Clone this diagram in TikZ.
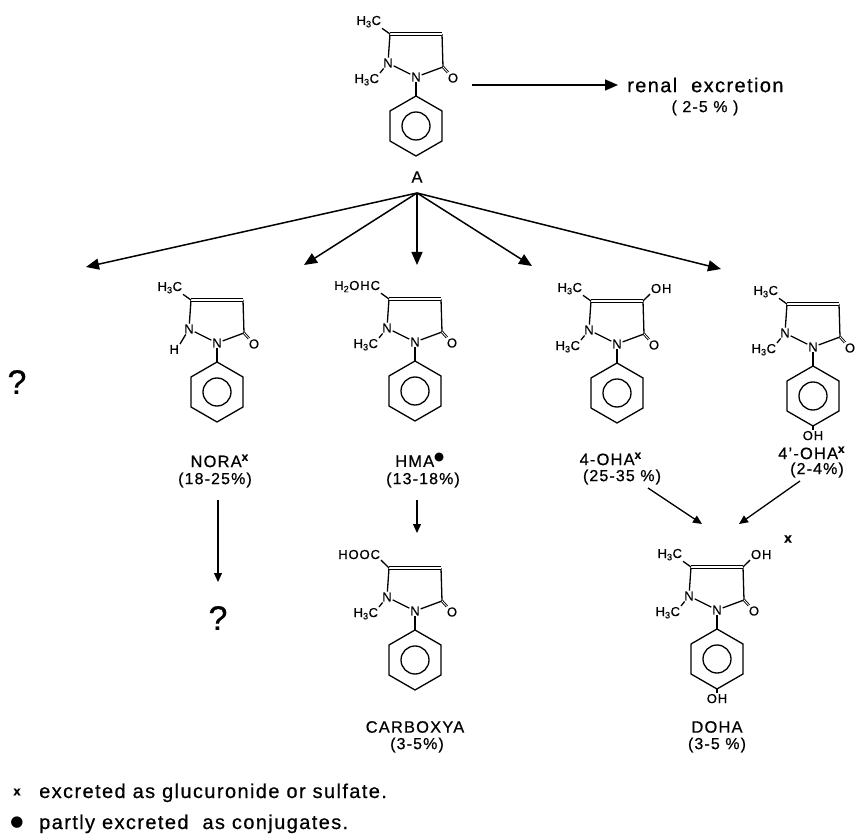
\documentclass[tikz,border=0pt]{standalone}
\usepackage{fontspec}
\setmainfont{Liberation Sans}[LetterSpace=7, FakeBold=0.6]
\newfontfamily\symfont{DejaVu Sans}
\usetikzlibrary{arrows.meta}
\newcommand\hmeth{H\textsubscript{3}C}
\tikzset{
  bond/.style={line width=1.3pt, line join=round},
  dbl/.style={double, double distance=1.3pt, line width=1.1pt},
  dblo/.style={double, double distance=0.8pt, line width=0.9pt},
  atom/.style={inner sep=0.8pt, font=\fontsize{13}{13}\selectfont},
  lbl/.style={inner sep=0pt, font=\fontsize{16.5}{18}\selectfont},
  pct/.style={inner sep=0pt, font=\fontsize{16}{18}\selectfont},
  big/.style={inner sep=0pt, font=\fontsize{20}{22}\selectfont},
  qm/.style={inner sep=0pt, font=\fontsize{34}{36}\selectfont},
  arr/.style={line width=1.5pt, -{Triangle[length=13pt,width=11pt]}},
  sarr/.style={line width=1.3pt, -{Triangle[length=9pt,width=8pt]}},
}
\newcommand\drawpyra[7]{%
\begin{scope}[shift={#2}]
\node[atom] (#1n2) at (0,0) {N};
\node[atom] (#1n1) at (-28,-14) {N};
\node[atom] (#1o) at (37,1) {O};
\coordinate (#1c5) at (-26,-43);
\coordinate (#1c4) at (26,-43);
\coordinate (#1c3) at (27,-10);
\coordinate (#1p1) at (0,19);
\coordinate (#1p2) at (26,34);
\coordinate (#1p3) at (26,64);
\coordinate (#1p4) at (0,79);
\coordinate (#1p5) at (-26,64);
\coordinate (#1p6) at (-26,34);
\coordinate (#1pc) at (0,49);
\draw[bond] (#1n1) -- (#1n2);
\draw[bond] (#1n2) -- (#1c3) -- (#1c4);
\draw[bond] (#1n1) -- (#1c5);
\draw[dbl] (#1c5) -- (#1c4);
\draw[dblo] (#1c3) -- (#1o);
\draw[bond] (#1n2) -- (#1p1);
\draw[bond] (#1p1) -- (#1p2) -- (#1p3) -- (#1p4) -- (#1p5) -- (#1p6) -- cycle;
\draw[bond] (#1pc) circle[radius=14pt];
\node[atom, anchor=base east] (#1s5) at (-34,-52) {#3};
\draw[bond] (#1c5) -- (#1s5.south east);
\node[atom, anchor=north east] (#1s1) at (#5) {#4};
\draw[bond] (#1n1) -- (#1s1.north east);
\ifnum#6=1
\node[atom, anchor=base west] (#1s4) at (33,-51) {OH};
\draw[bond] (#1c4) -- (#1s4.south west);
\fi
\ifnum#7=1
\node[atom, anchor=north] (#1po) at (0,83) {OH};
\draw[bond] (#1p4) -- (#1po);
\fi
\end{scope}}
\begin{document}
\begin{tikzpicture}[x=1pt,y=-1pt]
\useasboundingbox (0,0) rectangle (860,834);
% molecules
\drawpyra{a}{(416,77)}{\hmeth}{\hmeth}{-36,-4}{0}{0}
\drawpyra{nora}{(217,343)}{\hmeth}{H}{-37,1}{0}{0}
\drawpyra{hma}{(415,342)}{H\textsubscript{2}OHC}{\hmeth}{-36,-4}{0}{0}
\drawpyra{oha}{(617,344)}{\hmeth}{\hmeth}{-36,-4}{1}{0}
\drawpyra{poha}{(813,347)}{\hmeth}{\hmeth}{-36,-4}{0}{1}
\drawpyra{carb}{(415,611)}{HOOC}{\hmeth}{-36,-4}{0}{0}
\drawpyra{doha}{(717,610)}{\hmeth}{\hmeth}{-36,-4}{1}{1}
% labels
\node[lbl] (lA) at (417,177) {A};
\node[lbl] (lnora) at (220,461) {NORA\textsuperscript{\textbf{x}}};
\node[pct] (pnora) at (215,480) {(18-25\%)};
\node[lbl] (lhma) at (420,460) {HMA\textsuperscript{{\symfont ●}}};
\node[pct] (phma) at (423,480) {(13-18\%)};
\node[lbl] (loha) at (611,459) {4-OHA\textsuperscript{\textbf{x}}};
\node[pct] (poha) at (622,477) {(25-35 \%)};
\node[lbl] (lpoha) at (812,453) {4'-OHA\textsuperscript{\textbf{x}}};
\node[pct] (ppoha) at (817,470) {(2-4\%)};
\node[lbl] (lcarb) at (415,727) {CARBOXYA};
\node[pct] (pcarb) at (417,745) {(3-5\%)};
\node[lbl] (ldoha) at (717,727) {DOHA};
\node[pct] (pdoha) at (717,745) {(3-5 \%)};
\node[inner sep=0pt, font=\fontsize{14}{14}\selectfont\bfseries] (xdoha) at (788,539) {x};
\node[big, anchor=west] (renal) at (627,85) {renal\ \ excretion};
\node[pct] (prenal) at (705,108) {( 2-5 \% )};
\node[qm] (q1) at (17,382) {?};
\node[qm] (q2) at (218,618) {?};
% arrows
\coordinate (r0) at (472,85);
\coordinate (r1) at (618,85);
\draw[arr] (r0) -- (r1);
\coordinate (fan) at (417,193);
\coordinate (t1) at (86,267);
\coordinate (t2) at (304,265);
\coordinate (t3) at (417,265);
\coordinate (t4) at (532,266);
\coordinate (t5) at (721,269);
\foreach \t in {t1,t2,t3,t4,t5} \draw[arr] (fan) -- (\t);
\coordinate (h0) at (417,500);
\coordinate (h1) at (417,533);
\draw[sarr] (h0) -- (h1);
\coordinate (n0) at (218,500);
\coordinate (n1) at (218,582);
\draw[sarr] (n0) -- (n1);
\coordinate (o0) at (648,488);
\coordinate (o1) at (702,524);
\draw[sarr] (o0) -- (o1);
\coordinate (p0) at (800,481);
\coordinate (p1) at (739,524);
\draw[sarr] (p0) -- (p1);
% legend
\node[inner sep=0pt, font=\fontsize{13}{13}\selectfont\bfseries] (lx) at (17,792) {x};
\node[big, anchor=base west] (leg1) at (39,798) {excreted as glucuronide or sulfate.};
\node[inner sep=0pt, font=\symfont\fontsize{15}{15}\selectfont] (lb) at (17,823) {●};
\node[big, anchor=base west] (leg2) at (39,829) {partly excreted \ as conjugates.};
\end{tikzpicture}
\end{document}
